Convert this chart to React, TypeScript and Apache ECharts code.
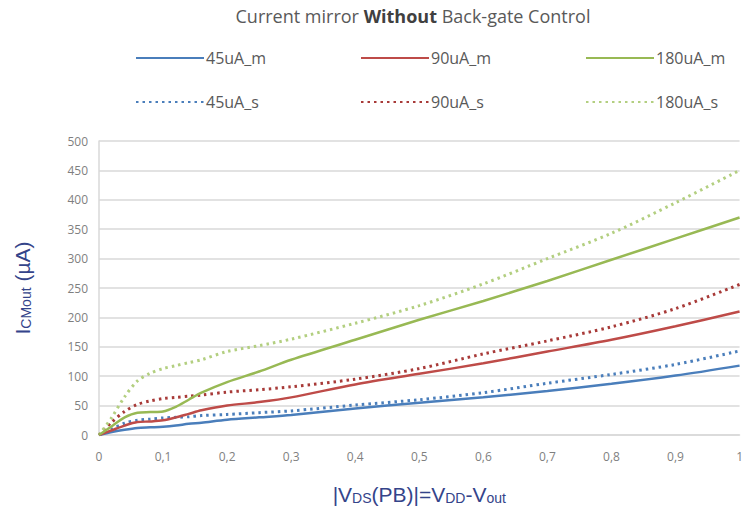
import React, { useEffect, useRef } from "react";
import * as echarts from "echarts";

const xs = [0, 0.02, 0.04, 0.06, 0.08, 0.1, 0.12, 0.14, 0.16, 0.2, 0.25, 0.3, 0.4, 0.5, 0.6, 0.7, 0.8, 0.9, 1.0];
const blueM = [0, 5, 9, 12, 13, 14, 16, 19, 21, 26, 30, 34, 45, 55, 64, 75, 87, 101, 118];
const blueS = [0, 10, 20, 25, 27, 29, 30, 31, 33, 35, 38, 41, 51, 60, 72, 88, 103, 120, 143];
const redM = [0, 8, 16, 22, 23, 25, 30, 36, 42, 50, 56, 64, 86, 104, 122, 142, 162, 185, 210];
const redS = [0, 22, 40, 52, 58, 62, 64, 66, 68, 73, 77, 82, 95, 113, 138, 160, 184, 215, 256];
const greenM = [0, 15, 30, 38, 39, 40, 48, 60, 72, 90, 108, 128, 162, 196, 228, 262, 298, 334, 370];
const greenS = [0, 30, 65, 92, 105, 113, 118, 123, 128, 142, 152, 163, 190, 220, 257, 300, 343, 395, 450];

const seriesNames = ["45uA_m", "90uA_m", "180uA_m", "45uA_s", "90uA_s", "180uA_s"];
const seriesValues = [blueM, redM, greenM, blueS, redS, greenS];
const seriesColors = ["#4a7ebb", "#be4b48", "#98b954", "#4a7ebb", "#a83a38", "#b3cf80"];
const legendLeft = [130, 355, 580, 130, 355, 580];
const legendTop = [45, 45, 45, 89, 89, 89];

export default function App() {
  const ref = useRef<HTMLDivElement>(null);
  useEffect(() => {
    const chart = echarts.init(ref.current!, undefined, { renderer: "svg" });
    const font = "'Open Sans', sans-serif";
    const series = seriesNames.map((name, i) => ({
      name,
      type: "line",
      data: xs.map((x, j) => [x, seriesValues[i][j]]),
      smooth: 0.3,
      showSymbol: false,
      symbol: "none",
      lineStyle: {
        color: seriesColors[i],
        width: i < 3 ? 2.5 : 3,
        type: i < 3 ? "solid" : [2.5, 4],
      },
      itemStyle: { color: seriesColors[i] },
      z: i < 3 ? 3 : 2,
    }));
    chart.setOption({
      animation: false,
      title: {
        text: "{n|Current mirror }{b|Without}{n| Back-gate Control}",
        left: 408,
        textAlign: "center",
        top: 2,
        textStyle: {
          fontWeight: "normal",
          rich: {
            n: { fontFamily: font, fontSize: 18, color: "#595959", fontWeight: "normal" },
            b: { fontFamily: font, fontSize: 18, color: "#404040", fontWeight: "bold" },
          },
        },
      },
      legend: seriesNames.map((name, i) => ({
        data: [name],
        left: legendLeft[i],
        top: legendTop[i],
        itemWidth: 68,
        itemHeight: 16,
        itemGap: 0,
        itemStyle: { opacity: 0 },
        textStyle: { fontFamily: font, fontSize: 16, color: "#595959", padding: [0, 0, 0, -3] },
      })),
      grid: { left: 99, right: 1, top: 141, bottom: 69, containLabel: false },
      xAxis: {
        type: "value",
        min: 0,
        max: 1,
        interval: 0.1,
        axisLine: { show: true, lineStyle: { color: "#d9d9d9", width: 1.5 } },
        axisTick: { show: false },
        splitLine: { show: false },
        axisLabel: {
          fontFamily: font,
          fontSize: 12,
          color: "#7f7f7f",
          margin: 15,
          formatter: (v: number) => (Math.round(v * 10) / 10).toString().replace(".", ","),
        },
        name: "{t||V}{s|DS}{t|(PB)|=V}{s|DD}{t|-V}{s|out}",
        nameLocation: "middle",
        nameGap: 44,
        nameTextStyle: {
          rich: {
            t: { fontFamily: "Liberation Sans, Arial", fontSize: 21, color: "#34448a", lineHeight: 26, verticalAlign: "bottom" },
            s: { fontFamily: "Liberation Sans, Arial", fontSize: 14, color: "#34448a", lineHeight: 20, verticalAlign: "bottom" },
          },
        },
      },
      yAxis: {
        type: "value",
        min: 0,
        max: 500,
        interval: 50,
        axisLine: { show: true, lineStyle: { color: "#d9d9d9", width: 1.5 } },
        axisTick: { show: false },
        splitLine: { show: true, lineStyle: { color: "#d9d9d9", width: 1.5 } },
        axisLabel: { fontFamily: font, fontSize: 12, color: "#7f7f7f", margin: 11 },
        name: "{t|I}{s|CMout}{t| (µA)}",
        nameLocation: "middle",
        nameRotate: 90,
        nameGap: 66,
        nameTextStyle: {
          rich: {
            t: { fontFamily: "Liberation Sans, Arial", fontSize: 21, color: "#34448a", lineHeight: 26, verticalAlign: "bottom" },
            s: { fontFamily: "Liberation Sans, Arial", fontSize: 14, color: "#34448a", lineHeight: 20, verticalAlign: "bottom" },
          },
        },
      },
      series,
    });
    return () => chart.dispose();
  }, []);
  return (
    <div
      ref={ref}
      style={{ position: "absolute", left: 0, top: 0, width: 746, height: 510, background: "#fff" }}
    />
  );
}
